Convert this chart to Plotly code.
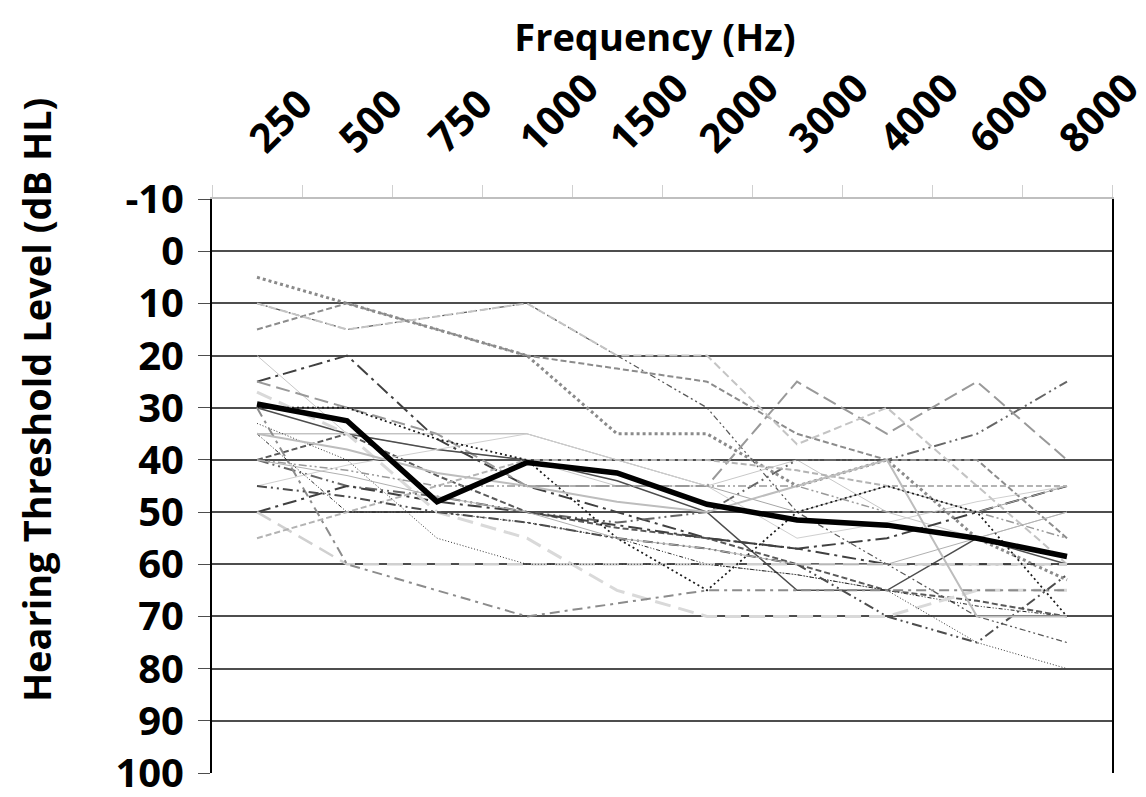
import plotly.graph_objects as go

freqs = ["250", "500", "750", "1000", "1500", "2000", "3000", "4000", "6000", "8000"]
db_ticks = [-10, 0, 10, 20, 30, 40, 50, 60, 70, 80, 90, 100]
db_labels = ["-10", "0", "10", "20", "30", "40", "50", "60", "70", "80", "90", "100"]

s01 = [5, 10, 15, 20, 35, 35, 45, 40, 55, 63]
s02 = [10, 15, 12.5, 10, 20, 30, 50, 60, 70, 75]
s03 = [15, 10, 15, 20, 22.5, 25, 35, 40, 40, 55]
s04 = [20, 35, 38, 40, 45, 45, 40, 50, 55, 50]
s05 = [25, 20, 36, 45, 50, 55, 57, 55, 50, 45]
s06 = [40, 45, 47, 50, 52, 50, 40, 40, 35, 25]
s07 = [25, 30, 35, 45, 45, 45, 25, 35, 25, 40]
s08 = [10, 15, 12.5, 10, 20, 20, 37, 30, 45, 60]
s09 = [30, 35, 38, 40, 44, 50, 65, 65, 55, 60]
s10 = [35, 35, 35, 35, 40, 45, 50, 45, 50, 45]
s11 = [35, 50, 50, 52, 55, 60, 62, 65, 68, 70]
s12 = [40, 35, 43, 50, 53, 55, 60, 65, 67, 70]
s13 = [45, 41, 38, 35, 40, 45, 55, 52, 48, 45]
s14 = [50, 45, 48, 50, 52.5, 55, 57, 60, 60, 60]
s15 = [50, 60, 60, 60, 60, 60, 60, 60, 60, 60]
s16 = [27, 35, 50, 55, 65, 70, 70, 70, 65, 65]
s17 = [55, 50, 45, 40, 40, 40, 42, 45, 45, 45]
s18 = [33, 40, 55, 60, 60, 60, 62, 65, 75, 80]
s19 = [30, 30, 36, 40, 55, 65, 50, 45, 50, 70]
s20 = [30, 60, 65, 70, 67.5, 65, 65, 65, 65, 65]
s21 = [45, 47, 50, 52, 55, 57, 60, 70, 75, 62]
s22 = [35, 38, 42.5, 45, 48, 50, 45, 40, 70, 70]
s23 = [40, 42, 45, 45, 45, 45, 45, 50, 50, 55]
s24 = [40, 43, 47, 50, 55, 57, 60, 60, 55, 50]
mean = [29.3, 32.5, 48, 40.5, 42.5, 48.5, 51.5, 52.5, 55, 58.5]

subjects = [s01, s02, s03, s04, s05, s06, s07, s08, s09, s10, s11, s12,
            s13, s14, s15, s16, s17, s18, s19, s20, s21, s22, s23, s24]

# (color, width, dash) styles per subject line
styles = [
    ("#8a8a8a", 3, "dot"),
    ("#595959", 1.25, "6px,3px,2px,3px,2px,3px"),
    ("#8c8c8c", 2, "6px,3px"),
    ("#c8c8c8", 1, "solid"),
    ("#404040", 2, "14px,5px,3px,5px"),
    ("#666666", 2, "12px,4px,2px,4px,2px,4px"),
    ("#999999", 2, "14px,6px"),
    ("#c4c4c4", 2, "8px,4px"),
    ("#4d4d4d", 1.5, "solid"),
    ("#a6a6a6", 1, "solid"),
    ("#262626", 1, "4px,2px,1px,2px,1px,2px"),
    ("#595959", 2, "6px,3px"),
    ("#cfcfcf", 1, "solid"),
    ("#404040", 2, "14px,5px,3px,5px"),
    ("#d0d0d0", 2.5, "16px,8px"),
    ("#d9d9d9", 3, "16px,8px"),
    ("#b3b3b3", 2, "6px,3px"),
    ("#333333", 1, "1px,2px"),
    ("#1a1a1a", 1.75, "2px,3px"),
    ("#8c8c8c", 2, "10px,5px,3px,5px"),
    ("#4d4d4d", 2, "10px,4px,2px,4px,2px,4px"),
    ("#bdbdbd", 2, "solid"),
    ("#999999", 1.5, "8px,3px,2px,3px,2px,3px"),
    ("#b0b0b0", 1, "solid"),
]

FONT = "Open Sans"

fig = go.Figure()
for vals, (col, w, dash) in zip(subjects, styles):
    fig.add_trace(go.Scatter(x=freqs, y=vals, mode="lines",
                             line=dict(color=col, width=w, dash=dash),
                             hoverinfo="skip"))
fig.add_trace(go.Scatter(x=freqs, y=mean, mode="lines",
                         line=dict(color="#000000", width=5.5)))

fig.update_layout(
    width=1146, height=797,
    margin=dict(l=212, r=34, t=199, b=24),
    paper_bgcolor="white", plot_bgcolor="white",
    showlegend=False,
    font=dict(family=FONT, color="black"),
    title=dict(text="<b>Frequency (Hz)</b>", x=655 / 1146, xanchor="center",
               xref="container", y=1 - 38 / 797, yref="container", yanchor="middle",
               font=dict(size=38, family=FONT, color="black")),
    xaxis=dict(type="category", side="top", tickangle=-45, automargin=False,
               range=[-0.5, len(freqs) - 0.5],
               tickvals=freqs, ticktext=["<b>%s</b>" % f for f in freqs],
               tickfont=dict(size=40, family=FONT, color="black"),
               ticks="outside", tickson="boundaries", ticklen=12, tickcolor="#d0d0d0",
               ticklabelstandoff=20, ticklabelshift=-5, ticklabeloverflow="allow",
               showline=True, linecolor="#bfbfbf", linewidth=2,
               showgrid=False, zeroline=False),
    yaxis=dict(range=[100, -10], automargin=False,
               tickvals=db_ticks, ticktext=["<b>%s</b>" % t for t in db_labels],
               tickfont=dict(size=40, family=FONT, color="black"),
               ticks="outside", ticklen=12, tickcolor="#4d4d4d",
               ticklabelstandoff=6, ticklabeloverflow="allow",
               showgrid=True, gridcolor="#4d4d4d", gridwidth=1.5,
               showline=True, linecolor="black", linewidth=2, mirror=True,
               zeroline=False),
    annotations=[dict(text="<b>Hearing Threshold Level (dB HL)</b>",
                      xref="paper", yref="paper",
                      x=(36 - 212) / 900, y=(773 - 400) / 574,
                      xanchor="center", yanchor="middle", textangle=-90, showarrow=False,
                      font=dict(size=38, family=FONT, color="black"))],
)

fig.write_html("out.html", config={"displayModeBar": False},
               post_script="document.body.style.margin='0';document.body.style.overflow='hidden';")
